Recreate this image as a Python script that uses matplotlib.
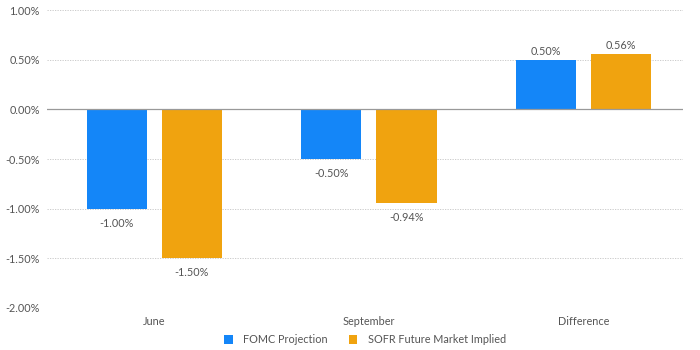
import matplotlib.pyplot as plt
import numpy as np

categories = ['June', 'September', 'Difference']
fomc = [-1.00, -0.50, 0.50]
sofr = [-1.50, -0.94, 0.56]
series_names = ['FOMC Projection', 'SOFR Future Market Implied']
colors = ['#1486F8', '#F0A30F']
yticks = [1.0, 0.5, 0.0, -0.5, -1.0, -1.5, -2.0]

plt.rcParams['font.family'] = ['Lato', 'DejaVu Sans']
txt = '#555555'

fig = plt.figure(figsize=(7, 3.5), dpi=100)
ax = fig.add_axes([0.067, 0.12, 0.909, 0.851])

x = np.arange(len(categories))
w = 0.28
off = 0.175
for vals, dx, c, name in [(fomc, -off, colors[0], series_names[0]),
                          (sofr, off, colors[1], series_names[1])]:
    bars = ax.bar(x + dx, vals, w, color=c, label=name, zorder=3)
    for b, v in zip(bars, vals):
        if v < 0:
            ax.annotate(f'{v:.2f}%', (b.get_x() + b.get_width() / 2, v),
                        xytext=(0, -6.5), textcoords='offset points',
                        ha='center', va='top', fontsize=7.8, color=txt)
        else:
            ax.annotate(f'{v:.2f}%', (b.get_x() + b.get_width() / 2, v),
                        xytext=(0, 2), textcoords='offset points',
                        ha='center', va='bottom', fontsize=7.8, color=txt)

ax.set_xlim(-0.5, 2.464)
ax.set_ylim(-2.0, 1.0)
ax.set_yticks(yticks)
ax.set_yticklabels([f'{t:.2f}%' for t in yticks], fontsize=7.8, color=txt)
ax.set_xticks(x)
ax.set_xticklabels(categories, fontsize=7.8, color=txt)
ax.tick_params(length=0, pad=6)
ax.tick_params(axis='y', pad=5)
for s in ax.spines.values():
    s.set_visible(False)
ax.yaxis.grid(True, linestyle=(0, (1.5, 1.5)), color='#c4c4c4', linewidth=0.6, zorder=0)
ax.axhline(0, color='#999999', linewidth=0.9, zorder=4)

ax.legend(loc='upper center', bbox_to_anchor=(0.5, -0.055), ncol=2, frameon=False,
          fontsize=7.8, handlelength=0.8, handleheight=0.8, columnspacing=1.9,
          handletextpad=1.0, labelcolor=txt)

fig.savefig('out.png', dpi=100)
